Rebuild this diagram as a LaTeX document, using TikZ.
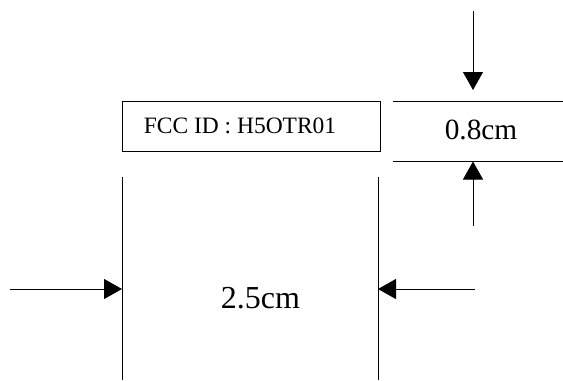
\documentclass[tikz,border=0pt]{standalone}
\usepackage{fontspec}
\setmainfont{Liberation Serif}
\usetikzlibrary{arrows.meta}

\begin{document}
\begin{tikzpicture}[x=0.75pt,y=0.75pt,yscale=-1,xscale=1,
  dimline/.style={line width=0.75pt},
  dimarrow/.style={line width=0.75pt,-{Triangle[length=13.5pt,width=15pt]}}]
\useasboundingbox (0,0) rectangle (563,380);
% label box
\draw [dimline] (122,101) rectangle (380,151);
\node (fccid) at (240,126) [inner sep=0pt] {\fontsize{17.6pt}{20pt}\selectfont FCC ID : H5OTR01};
% height marks
\coordinate (htopL) at (393,101);
\coordinate (htopR) at (563,101);
\coordinate (hbotL) at (393,161.5);
\coordinate (hbotR) at (563,161.5);
\draw [dimline] (htopL) -- (htopR);
\draw [dimline] (hbotL) -- (hbotR);
\node (height) at (481,130) [inner sep=0pt] {\fontsize{22pt}{26pt}\selectfont 0.8cm};
\coordinate (downstart) at (473,11);
\coordinate (downtip) at (473,90);
\coordinate (upstart) at (473,226);
\coordinate (uptip) at (473,161.5);
\draw [dimarrow] (downstart) -- (downtip);
\draw [dimarrow] (upstart) -- (uptip);
% width marks
\coordinate (wleftT) at (122,177);
\coordinate (wleftB) at (122,380);
\coordinate (wrightT) at (378,177);
\coordinate (wrightB) at (378,380);
\draw [dimline] (wleftT) -- (wleftB);
\draw [dimline] (wrightT) -- (wrightB);
\node (width) at (260.5,298) [inner sep=0pt] {\fontsize{24pt}{28pt}\selectfont 2.5cm};
\coordinate (leftstart) at (10,289);
\coordinate (lefttip) at (122,289);
\coordinate (rightstart) at (475,289);
\coordinate (righttip) at (378,289);
\draw [dimarrow] (leftstart) -- (lefttip);
\draw [dimarrow] (rightstart) -- (righttip);
\end{tikzpicture}
\end{document}
